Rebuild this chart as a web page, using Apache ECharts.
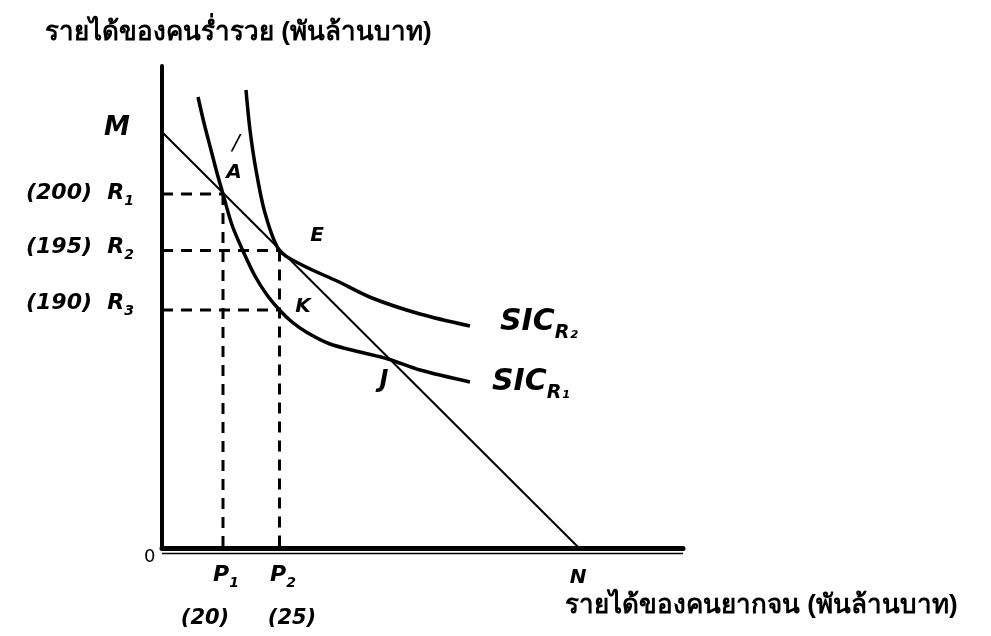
<!DOCTYPE html>
<html>
<head>
<meta charset="utf-8">
<script src="https://cdn.jsdelivr.net/npm/echarts@6/dist/echarts.min.js"></script>
<style>
  html, body { margin: 0; padding: 0; background: #fff; }
  #main { width: 991px; height: 636px; }
</style>
</head>
<body>
<div id="main"></div>
<script>
// budget line M-N
const budgetLine = [[0, 83.2], [83.4, 0]];

// social indifference curves
const sicR1 = [[7.2, 90.2], [8.4, 85], [9.8, 79.6], [11, 75], [12.2, 70.8], [14, 64.6], [16.2, 59.4],
  [18.6, 54.4], [21, 50.6], [23.5, 47.6], [26, 45.2], [29, 43.1], [33.6, 40.8], [39.6, 39.2],
  [45.2, 37.8], [51.6, 35.6], [61.6, 33.2]];
const sicR2 = [[16.8, 91.6], [17.6, 83.6], [18.8, 75.6], [20.6, 67], [23.5, 59.5], [28.2, 56.5],
  [35, 53.4], [42, 50], [51.6, 46.8], [61.6, 44.4]];

// named points
const pointA = [12.2, 70.8];
const pointE = [23.5, 59.5];
const pointK = [23.5, 47.6];

// texts
const yNotes = ['(200)  R{s|1}', '(195)  R{s|2}', '(190)  R{s|3}'];
const xNotes = ['P{s|1}', 'P{s|2}'];
const xValues = ['(20)', '(25)'];
const titleY = 'รายได้ของคนร่ำรวย (พันล้านบาท)';
const titleX = 'รายได้ของคนยากจน (พันล้านบาท)';

const chart = echarts.init(document.getElementById('main'));

function handStyle(size) {
  return {
    color: '#000',
    opacity: 1,
    fontFamily: 'DejaVu Sans',
    fontStyle: 'italic',
    fontWeight: 'bold',
    fontSize: size,
    rich: {
      s: {
        color: '#000', fontFamily: 'DejaVu Sans', fontStyle: 'italic', fontWeight: 'bold',
        fontSize: Math.round(size * 0.62), padding: [Math.round(size * 0.75), 0, 0, 0]
      }
    }
  };
}

function dashed(from, to) {
  return {
    type: 'line', data: [from, to], symbol: 'none', silent: true,
    lineStyle: { color: '#000', width: 3, type: [11, 8] }
  };
}

function note(pos, text, align, size, weight) {
  const label = Object.assign(handStyle(size || 20), {
    show: true, formatter: text, align: align || 'center', verticalAlign: 'middle', position: 'inside'
  });
  if (weight) label.fontWeight = weight;
  return { value: pos, label: label };
}

const notes = [
  note([-9, 84], 'M', 'center', 26),
  note([-5.6, 71], yNotes[0], 'right', 22),
  note([-5.6, 60.2], yNotes[1], 'right', 22),
  note([-5.6, 49], yNotes[2], 'right', 22),
  note([14.4, 75], 'A', 'center', 20),
  note([14.8, 80.8], '/', 'center', 22, 'normal'),
  note([31, 62.4], 'E', 'center', 20),
  note([28.2, 48.2], 'K', 'center', 20),
  note([44.4, 33.4], 'J', 'center', 24),
  note([67.6, 45.2], 'SIC{s|R₂}', 'left', 30),
  note([66, 33.2], 'SIC{s|R₁}', 'left', 30),
  note([83.2, -6], 'N', 'center', 20),
  note([12.8, -5.4], xNotes[0], 'center', 22),
  note([24.2, -5.4], xNotes[1], 'center', 22),
  note([8.6, -14.2], xValues[0], 'center', 21),
  note([26, -14.2], xValues[1], 'center', 21)
];

const option = {
  animation: false,
  backgroundColor: '#fff',
  title: [
    { text: titleY, left: 40, top: 15, textStyle: { fontSize: 26, fontWeight: 'bold', color: '#000' } },
    { text: titleX, left: 560, top: 588, textStyle: { fontSize: 26, fontWeight: 'bold', color: '#000' } },
    { text: '0', left: 139, top: 543, textStyle: { fontSize: 18, fontWeight: 'normal', color: '#000', fontFamily: 'DejaVu Sans' } }
  ],
  grid: { left: 162, right: 308, top: 66, bottom: 88 },
  xAxis: {
    type: 'value', min: 0, max: 104.2,
    axisLine: { show: true, onZero: false, lineStyle: { color: '#000', width: 5 } },
    axisTick: { show: false }, axisLabel: { show: false }, splitLine: { show: false }
  },
  yAxis: {
    type: 'value', min: 0, max: 96.4,
    axisLine: { show: true, onZero: false, lineStyle: { color: '#000', width: 4 } },
    axisTick: { show: false }, axisLabel: { show: false }, splitLine: { show: false }
  },
  series: [
    // thin second line under the x axis
    { type: 'line', data: [[0, -1.1], [104.2, -1.1]], symbol: 'none', clip: false, silent: true,
      lineStyle: { color: '#000', width: 1.5 } },
    { type: 'line', data: budgetLine, symbol: 'none', lineStyle: { color: '#000', width: 2 } },
    { type: 'line', data: sicR1, symbol: 'none', smooth: 0.3, lineStyle: { color: '#000', width: 3.5 } },
    { type: 'line', data: sicR2, symbol: 'none', smooth: 0.3, lineStyle: { color: '#000', width: 3.5 } },
    dashed([0, pointA[1]], pointA),
    dashed(pointA, [pointA[0], 0]),
    dashed([0, pointE[1]], pointE),
    dashed(pointE, [pointE[0], 0]),
    dashed([0, pointK[1]], pointK),
    { type: 'scatter', data: notes, symbolSize: 0, clip: false, silent: true, itemStyle: { opacity: 1 } }
  ]
};

chart.setOption(option);
</script>
</body>
</html>
